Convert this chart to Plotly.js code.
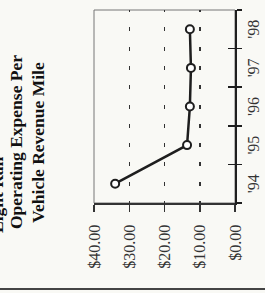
<!DOCTYPE html>
<html>
<head>
<meta charset="utf-8">
<script src="https://cdn.plot.ly/plotly-3.0.1.min.js"></script>
<style>
  html, body { margin: 0; padding: 0; background: #f9f9f5; width: 265px; height: 293px; overflow: hidden; }
  #wrap { position: absolute; left: 0; top: 0; width: 293px; height: 265px;
          transform-origin: 0 0; transform: translate(0px, 293px) rotate(-90deg); }
</style>
</head>
<body>
<div id="wrap"></div>
<script>
// Data
const years = ["'94", "'95", "'96", "'97", "'98"];
const expensePerMile = [34.0, 13.6, 12.8, 12.5, 12.8];
const yTickVals = [0, 10, 20, 30, 40];
const yTickText = ["$0.00", "$10.00", "$20.00", "$30.00", "$40.00"];
const titleLines = ["Light Rail", "Operating Expense Per", "Vehicle Revenue Mile"];

const serif = "Liberation Serif, Times New Roman, serif";

const traces = [
  {
    x: years, y: expensePerMile, type: 'scatter', mode: 'lines+markers',
    line: {color: '#1e1e1e', width: 2.5},
    marker: {symbol: 'circle', size: 8, color: '#ffffff', line: {color: '#1e1e1e', width: 2}},
    hoverinfo: 'skip', cliponaxis: false
  },
  {
    x: years, y: expensePerMile, xaxis: 'x2', type: 'scatter', mode: 'lines',
    line: {width: 0}, opacity: 0, hoverinfo: 'skip', showlegend: false
  }
];

const layout = {
  width: 293, height: 265,
  margin: {l: 90, r: 10, t: 94, b: 30},
  paper_bgcolor: '#f9f9f5', plot_bgcolor: '#f9f9f5',
  showlegend: false,
  font: {family: serif, color: '#222'},
  xaxis: {
    type: 'category', categoryorder: 'array', categoryarray: years,
    range: [-0.5, 4.5],
    showline: true, linecolor: '#1e1e1e', linewidth: 2,
    ticks: 'outside', ticklen: 5, tickwidth: 1.5, tickcolor: '#1e1e1e',
    tickson: 'boundaries', showgrid: false, zeroline: false,
    tickfont: {family: serif, size: 16, color: '#333'},
    ticklabelstandoff: 3
  },
  xaxis2: {
    overlaying: 'x', matches: 'x', type: 'category',
    categoryorder: 'array', categoryarray: years,
    ticks: 'inside', ticklen: 7, tickwidth: 1.5, tickcolor: '#1e1e1e',
    tickson: 'boundaries', showticklabels: false, showgrid: false,
    showline: false, zeroline: false
  },
  yaxis: {
    range: [0, 40], tickvals: yTickVals, ticktext: yTickText,
    showline: true, linecolor: '#333', linewidth: 1.5,
    ticks: 'outside', ticklen: 7, tickwidth: 1.5, tickcolor: '#333',
    showgrid: true, gridcolor: '#333', gridwidth: 1.5,
    griddash: '2px,15.3px,2px,0px',
    zeroline: false,
    tickfont: {family: serif, size: 16, color: '#333'},
    ticklabelstandoff: 10
  },
  shapes: [
    {type: 'rect', xref: 'paper', yref: 'paper', x0: 0, x1: 1, y0: 0, y1: 1,
     line: {color: '#777', width: 1}, layer: 'below'},
    {type: 'line', xref: 'paper', yref: 'paper', x0: -0.446, x1: -0.446, y0: -0.3, y1: 1.8,
     line: {color: '#444', width: 2}}
  ],
  annotations: [
    {text: titleLines[0], xref: 'paper', yref: 'paper', x: -0.166, y: 1.688,
     xanchor: 'left', yanchor: 'middle', showarrow: false,
     font: {family: serif, size: 17.5, color: '#111', weight: 'bold'}},
    {text: titleLines[1], xref: 'paper', yref: 'paper', x: 0.316, y: 1.555,
     xanchor: 'center', yanchor: 'middle', showarrow: false,
     font: {family: serif, size: 17.5, color: '#111', weight: 'bold'}},
    {text: titleLines[2], xref: 'paper', yref: 'paper', x: 0.316, y: 1.398,
     xanchor: 'center', yanchor: 'middle', showarrow: false,
     font: {family: serif, size: 17.5, color: '#111', weight: 'bold'}}
  ]
};

Plotly.newPlot('wrap', traces, layout, {staticPlot: true, displayModeBar: false});
</script>
</body>
</html>
